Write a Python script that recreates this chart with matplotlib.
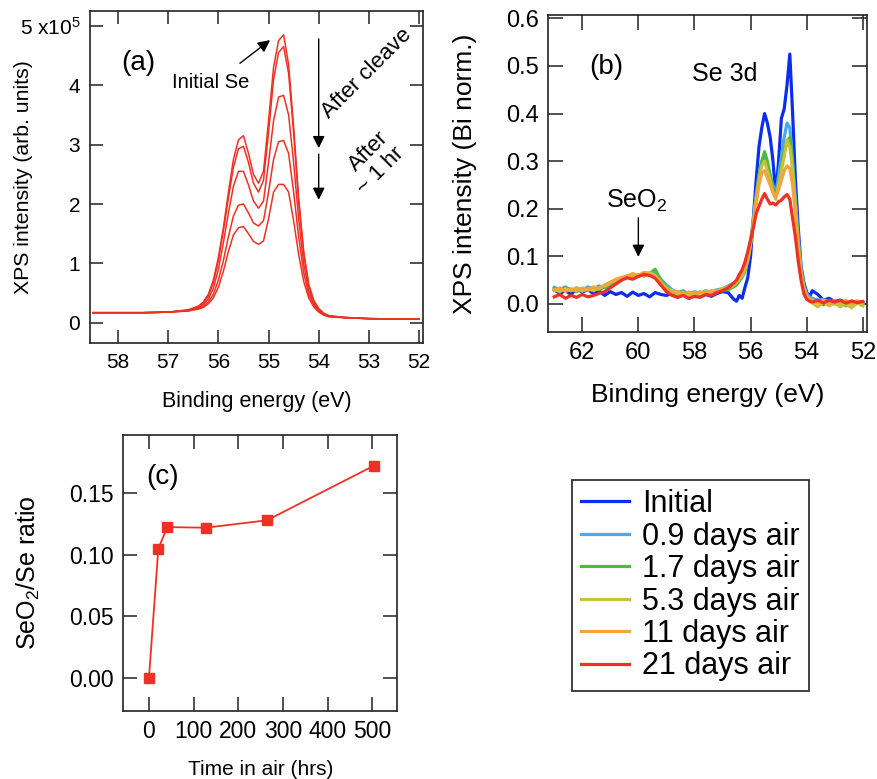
import matplotlib
matplotlib.use('Agg')
import matplotlib.pyplot as plt

plt.rcParams['font.family'] = ['Liberation Sans', 'DejaVu Sans']
plt.rcParams['mathtext.fontset'] = 'custom'
plt.rcParams['mathtext.rm'] = 'Liberation Sans'
plt.rcParams['mathtext.it'] = 'Liberation Sans:italic'
plt.rcParams['mathtext.bf'] = 'Liberation Sans:bold'

# ---------------- Panel (a) data ----------------
energy_a = [58.5, 58.0, 57.5, 57.0, 56.6, 56.4, 56.3, 56.2, 56.1, 56.0, 55.9, 55.8, 55.7, 55.6,
            55.5, 55.4, 55.3, 55.2, 55.1, 55.0, 54.9, 54.8, 54.7, 54.6, 54.5, 54.4, 54.3, 54.2,
            54.1, 54.0, 53.9, 53.8, 53.5, 53.0, 52.5, 52.0]
cleave_1 = [0.17, 0.17, 0.17, 0.18, 0.22, 0.28, 0.35, 0.48, 0.72, 1.10, 1.60, 2.20, 2.75, 3.08,
            3.15, 2.85, 2.50, 2.35, 2.55, 3.40, 4.30, 4.75, 4.85, 4.35, 3.30, 2.10, 1.20, 0.65,
            0.38, 0.24, 0.16, 0.12, 0.09, 0.07, 0.065, 0.06]
cleave_2 = [0.17, 0.17, 0.17, 0.18, 0.21, 0.27, 0.33, 0.45, 0.68, 1.05, 1.55, 2.10, 2.62, 2.93,
            2.97, 2.70, 2.35, 2.20, 2.40, 3.20, 4.10, 4.55, 4.65, 4.20, 3.20, 2.05, 1.18, 0.64,
            0.37, 0.23, 0.16, 0.12, 0.09, 0.07, 0.065, 0.06]
cleave_3 = [0.17, 0.17, 0.17, 0.18, 0.21, 0.26, 0.31, 0.40, 0.58, 0.90, 1.35, 1.85, 2.30, 2.55,
            2.55, 2.32, 2.05, 1.93, 2.05, 2.70, 3.40, 3.80, 3.83, 3.50, 2.70, 1.75, 1.00, 0.55,
            0.33, 0.21, 0.15, 0.11, 0.09, 0.07, 0.065, 0.06]
cleave_4 = [0.17, 0.17, 0.17, 0.18, 0.20, 0.24, 0.28, 0.35, 0.48, 0.72, 1.05, 1.45, 1.80, 1.98,
            2.00, 1.85, 1.68, 1.63, 1.72, 2.20, 2.75, 3.05, 3.07, 2.85, 2.20, 1.45, 0.85, 0.48,
            0.30, 0.20, 0.14, 0.11, 0.09, 0.07, 0.065, 0.06]
cleave_5 = [0.17, 0.17, 0.17, 0.18, 0.20, 0.23, 0.26, 0.32, 0.42, 0.60, 0.87, 1.20, 1.48, 1.60,
            1.62, 1.50, 1.37, 1.32, 1.38, 1.75, 2.20, 2.33, 2.33, 2.20, 1.72, 1.15, 0.70, 0.42,
            0.27, 0.18, 0.13, 0.10, 0.085, 0.07, 0.065, 0.06]
series_a = [cleave_1, cleave_2, cleave_3, cleave_4, cleave_5]
xticks_a = [58, 57, 56, 55, 54, 53, 52]
yticks_a = [0, 1, 2, 3, 4, 5]
yticklabels_a = ['0', '1', '2', '3', '4', '5 x10$^5$']

# ---------------- Panel (b) data ----------------
energy_b = [63.0, 62.8, 62.6, 62.4, 62.2, 62.0, 61.8, 61.6, 61.4, 61.2, 61.0, 60.8, 60.6, 60.4,
            60.2, 60.0, 59.8, 59.6, 59.4, 59.2, 59.0, 58.8, 58.6, 58.4, 58.2, 58.0, 57.8, 57.6,
            57.4, 57.2, 57.0, 56.8, 56.6, 56.5, 56.4, 56.3, 56.2, 56.1, 56.0, 55.9, 55.8, 55.7,
            55.6, 55.5, 55.4, 55.3, 55.2, 55.1, 55.0, 54.9, 54.8, 54.7, 54.6, 54.5, 54.4, 54.3,
            54.2, 54.1, 54.0, 53.9, 53.8, 53.6, 53.4, 53.2, 53.0, 52.8, 52.6, 52.4, 52.2, 52.0]
initial = [0.030, 0.022, 0.028, 0.020, 0.032, 0.025, 0.030, 0.022, 0.028, 0.018, 0.026, 0.020,
           0.024, 0.016, 0.025, 0.018, 0.022, 0.015, 0.024, 0.020, 0.018, 0.022, 0.014, 0.020,
           0.012, 0.018, 0.015, 0.020, 0.016, 0.022, 0.026, 0.024, 0.010, 0.006, 0.018, 0.012,
           0.035, 0.055, 0.100, 0.180, 0.260, 0.330, 0.370, 0.400, 0.380, 0.350, 0.300, 0.230,
           0.300, 0.390, 0.410, 0.460, 0.525, 0.400, 0.260, 0.160, 0.080, 0.045, 0.025, 0.015,
           0.028, 0.020, 0.008, 0.012, 0.005, 0.008, 0.002, 0.006, 0.003, 0.005]
days_0p9 = [0.035, 0.030, 0.036, 0.028, 0.034, 0.030, 0.036, 0.032, 0.038, 0.034, 0.040, 0.046,
            0.052, 0.056, 0.060, 0.058, 0.064, 0.062, 0.066, 0.052, 0.040, 0.030, 0.024, 0.028,
            0.020, 0.026, 0.022, 0.028, 0.025, 0.030, 0.032, 0.038, 0.044, 0.048, 0.055, 0.062,
            0.075, 0.095, 0.130, 0.180, 0.230, 0.270, 0.300, 0.310, 0.290, 0.270, 0.250, 0.230,
            0.270, 0.310, 0.350, 0.380, 0.370, 0.300, 0.220, 0.140, 0.075, 0.040, 0.022, 0.015,
            0.012, 0.008, 0.010, 0.004, 0.008, 0.002, 0.006, 0.000, 0.004, 0.002]
days_1p7 = [0.032, 0.028, 0.034, 0.030, 0.026, 0.032, 0.028, 0.034, 0.030, 0.036, 0.042, 0.048,
            0.050, 0.058, 0.062, 0.058, 0.066, 0.064, 0.073, 0.050, 0.036, 0.026, 0.022, 0.026,
            0.016, 0.022, 0.018, 0.024, 0.020, 0.026, 0.028, 0.030, 0.036, 0.040, 0.048, 0.056,
            0.068, 0.090, 0.125, 0.170, 0.220, 0.270, 0.300, 0.320, 0.300, 0.270, 0.240, 0.225,
            0.250, 0.290, 0.320, 0.340, 0.350, 0.290, 0.210, 0.130, 0.070, 0.035, 0.018, 0.010,
            0.006, 0.004, -0.002, 0.006, 0.000, 0.004, -0.004, 0.002, 0.006, -0.002]
days_5p3 = [0.030, 0.026, 0.032, 0.028, 0.034, 0.027, 0.032, 0.028, 0.034, 0.038, 0.044, 0.050,
            0.054, 0.060, 0.056, 0.062, 0.058, 0.066, 0.060, 0.046, 0.034, 0.028, 0.020, 0.024,
            0.018, 0.024, 0.020, 0.026, 0.022, 0.028, 0.030, 0.034, 0.040, 0.045, 0.052, 0.060,
            0.072, 0.092, 0.125, 0.170, 0.220, 0.260, 0.290, 0.300, 0.280, 0.260, 0.235, 0.220,
            0.250, 0.280, 0.310, 0.345, 0.330, 0.280, 0.200, 0.120, 0.065, 0.032, 0.015, 0.006,
            0.002, -0.006, 0.004, -0.004, 0.002, -0.006, 0.000, -0.008, 0.002, -0.004]
days_11 = [0.028, 0.034, 0.026, 0.032, 0.028, 0.034, 0.030, 0.036, 0.032, 0.040, 0.046, 0.052,
           0.056, 0.058, 0.064, 0.060, 0.066, 0.062, 0.058, 0.044, 0.032, 0.024, 0.026, 0.020,
           0.025, 0.020, 0.026, 0.022, 0.028, 0.026, 0.032, 0.036, 0.042, 0.048, 0.056, 0.064,
           0.078, 0.098, 0.130, 0.170, 0.210, 0.250, 0.275, 0.280, 0.265, 0.250, 0.235, 0.225,
           0.240, 0.260, 0.280, 0.290, 0.285, 0.250, 0.190, 0.120, 0.065, 0.032, 0.016, 0.010,
           0.008, 0.002, 0.008, 0.000, 0.006, 0.002, 0.008, 0.000, 0.006, 0.002]
days_21 = [0.015, 0.020, 0.012, 0.018, 0.014, 0.020, 0.015, 0.018, 0.022, 0.026, 0.034, 0.042,
           0.050, 0.055, 0.052, 0.058, 0.062, 0.060, 0.054, 0.040, 0.026, 0.018, 0.014, 0.018,
           0.012, 0.016, 0.014, 0.020, 0.018, 0.024, 0.028, 0.034, 0.044, 0.050, 0.062, 0.072,
           0.088, 0.110, 0.135, 0.160, 0.190, 0.205, 0.220, 0.232, 0.220, 0.210, 0.212, 0.208,
           0.215, 0.218, 0.225, 0.230, 0.220, 0.180, 0.140, 0.090, 0.050, 0.022, 0.010, 0.006,
           0.004, 0.008, 0.002, 0.008, 0.004, 0.008, 0.002, 0.006, 0.003, 0.005]
series_b = [initial, days_0p9, days_1p7, days_5p3, days_11, days_21]
labels_b = ['Initial', '0.9 days air', '1.7 days air', '5.3 days air', '11 days air', '21 days air']
colors_b = ['#0a2df0', '#4aa8f0', '#4cbd3a', '#c6c23c', '#f4a43a', '#ee3124']
xticks_b = [62, 60, 58, 56, 54, 52]
yticks_b = [0.0, 0.1, 0.2, 0.3, 0.4, 0.5, 0.6]
yticklabels_b = ['0.0', '0.1', '0.2', '0.3', '0.4', '0.5', '0.6']

# ---------------- Panel (c) data ----------------
time_hrs = [0, 21, 41, 127, 264, 504]
ratio = [0.000, 0.105, 0.1225, 0.122, 0.128, 0.1725]
xticks_c = [0, 100, 200, 300, 400, 500]
yticks_c = [0.00, 0.05, 0.10, 0.15]
yticklabels_c = ['0.00', '0.05', '0.10', '0.15']

RED = '#ee3124'
SPINE = '#222222'

fig = plt.figure(figsize=(8.78, 7.79), dpi=100)


def style(ax, fs, length=9.5):
    for s in ax.spines.values():
        s.set_color(SPINE)
        s.set_linewidth(1.2)
    ax.tick_params(direction='in', top=True, right=True, length=length, width=1.1,
                   color=SPINE, labelsize=fs, pad=7)


ARROW = dict(arrowstyle='-|>', color='k', lw=1.0, mutation_scale=18, shrinkA=0, shrinkB=0)

# ---- (a)
ax_a = fig.add_axes([0.1025, 0.5597, 0.3793, 0.4262])
for ys in series_a:
    ax_a.plot(energy_a, ys, color=RED, lw=1.1)
ax_a.set_xlim(58.56, 51.92)
ax_a.set_ylim(-0.34, 5.25)
ax_a.set_xticks(xticks_a)
ax_a.set_yticks(yticks_a)
ax_a.set_yticklabels(yticklabels_a)
style(ax_a, 15)
ax_a.set_xlabel('Binding energy (eV)', fontsize=15.5, labelpad=14)
ax_a.set_ylabel('XPS intensity (arb. units)', fontsize=15.3)
ax_a.yaxis.set_label_coords(-0.171, 0.5)
ax_a.text(57.6, 4.37, '(a)', fontsize=20, ha='center', va='center')
ax_a.text(56.15, 4.04, 'Initial Se', fontsize=14.5, ha='center', va='center')
ax_a.annotate('', xy=(54.97, 4.76), xytext=(55.57, 4.37), arrowprops=ARROW)
ax_a.annotate('', xy=(54.0, 2.94), xytext=(54.0, 4.78), arrowprops=ARROW)
ax_a.annotate('', xy=(54.0, 2.07), xytext=(54.0, 2.84), arrowprops=ARROW)
ax_a.text(53.04, 4.20, 'After cleave', fontsize=16, rotation=45, ha='center', va='center',
          rotation_mode='anchor')
ax_a.text(52.92, 2.69, 'After\n~ 1 hr', fontsize=16, rotation=45, ha='center', va='center',
          rotation_mode='anchor', multialignment='right', linespacing=1.0)

# ---- (b)
ax_b = fig.add_axes([0.6245, 0.5734, 0.3626, 0.4073])
for ys, lab, col in zip(series_b, labels_b, colors_b):
    ax_b.plot(energy_b, ys, color=col, lw=2.3, label=lab)
ax_b.set_xlim(63.21, 51.86)
ax_b.set_ylim(-0.0595, 0.607)
ax_b.set_xticks(xticks_b)
ax_b.set_yticks(yticks_b)
ax_b.set_yticklabels(yticklabels_b)
style(ax_b, 17, length=10.5)
ax_b.set_xlabel('Binding energy (eV)', fontsize=19)
ax_b.set_ylabel('XPS intensity (Bi norm.)', fontsize=19)
ax_b.yaxis.set_label_coords(-0.224, 0.5)
ax_b.xaxis.set_label_coords(0.5, -0.16)
ax_b.text(61.15, 0.497, '(b)', fontsize=20, ha='center', va='center')
ax_b.text(56.91, 0.483, 'Se 3d', fontsize=18, ha='center', va='center')
ax_b.text(60.05, 0.216, 'SeO$_2$', fontsize=18, ha='center', va='center')
ax_b.annotate('', xy=(60.0, 0.099), xytext=(60.0, 0.181), arrowprops=ARROW)

# ---- (c)
ax_c = fig.add_axes([0.1404, 0.0877, 0.3121, 0.3539])
ax_c.plot(time_hrs, ratio, color=RED, lw=1.3, marker='s', markersize=7.5,
          markeredgecolor=RED, markerfacecolor=RED)
ax_c.set_xlim(-57.5, 556)
ax_c.set_ylim(-0.0268, 0.1974)
ax_c.set_xticks(xticks_c)
ax_c.set_yticks(yticks_c)
ax_c.set_yticklabels(yticklabels_c)
style(ax_c, 16.5, length=10)
ax_c.set_xlabel('Time in air (hrs)', fontsize=15, labelpad=12)
ax_c.set_ylabel('SeO$_2$/Se ratio', fontsize=18)
ax_c.yaxis.set_label_coords(-0.297, 0.5)
ax_c.text(30, 0.163, '(c)', fontsize=20, ha='center', va='center')

# ---- legend
handles, labs = ax_b.get_legend_handles_labels()
leg = fig.legend(handles, labs, loc='upper left', bbox_to_anchor=(0.6515, 0.3838),
                 fontsize=22, frameon=True, fancybox=False, edgecolor='k',
                 handlelength=1.55, handletextpad=0.45, labelspacing=0.08,
                 borderpad=0.3, borderaxespad=0)
leg.get_frame().set_linewidth(1.3)

fig.savefig('out.png', dpi=100)
